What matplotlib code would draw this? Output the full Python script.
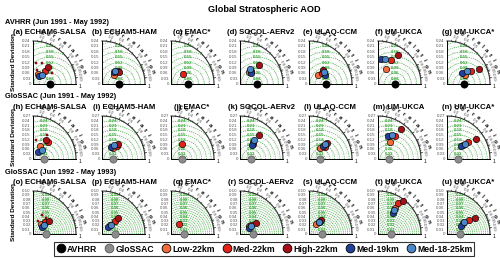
import numpy as np
import matplotlib.pyplot as plt
from matplotlib.lines import Line2D

plt.rcParams['font.family'] = ['Liberation Sans', 'DejaVu Sans']
plt.rcParams['font.weight'] = 'bold'

title = "Global Stratospheric AOD"
row_titles = ["AVHRR (Jun 1991 - May 1992)", "GloSSAC (Jun 1991 - May 1992)",
              "GloSSAC (Jun 1992 - May 1993)"]
models = ["ECHAM6-SALSA", "ECHAM5-HAM", "EMAC*", "SOCOL-AERv2", "ULAQ-CCM", "UM-UKCA", "UM-UKCA*"]
letters = "abcdefghijklmnopqrstu"

series = ["Low-22km", "Med-22km", "High-22km", "Med-19km", "Med-18-25km"]
colors = ["#f26b3a", "#e2231a", "#a50f15", "#21409a", "#4a86c8"]

ref_names = ["AVHRR", "GloSSAC", "GloSSAC"]
ref_colors = ["black", "#8c8c8c", "#8c8c8c"]
ref_std = [0.096, 0.072, 0.03]
std_max = [0.24, 0.27, 0.10]
std_step = [0.03, 0.03, 0.01]
rms_step = [0.03, 0.03, 0.005]
rms_label_every = [1, 1, 2]

# standard deviation and correlation, [model][series], None = not run
std1 = [[.062, .098, .126, .056, .070], [.083, .116, .117, .092, .102], [None, .087, None, None, None],
        [.082, .094, .149, .087, .102], [.073, .095, .112, .103, .108], [.096, .151, .196, .140, .145],
        [.116, .154, .197, .105, .133]]
cor1 = [[.46, .68, .648, .64, .72], [.814, .785, .819, .707, .707], [None, .77, None, None, None],
        [.614, .64, .707, .72, .566], [.69, .756, .707, .86, .80], [.477, .491, .574, .12, .281],
        [.89, .875, .904, .82, .851]]
std2 = [[.092, .143, .144, .054, .080], [.095, .124, .137, .094, .115], [None, .118, None, None, None],
        [.124, .137, .192, .117, .149], [.099, .125, .151, .120, .138], [.132, .179, .237, .156, .175],
        [.136, .171, .221, .120, .148]]
cor2 = [[.47, .66, .563, .6, .707], [.707, .76, .727, .632, .659], [None, .571, None, None, None],
        [.65, .613, .618, .647, .6], [.707, .797, .75, .74, .745], [.574, .602, .604, .398, .508],
        [.755, .774, .819, .74, .768]]
std3 = [[.030, .040, .048, .026, .033], [.027, .042, .051, .021, .031], [None, .030, None, None, None],
        [.028, .034, .045, .026, .031], [.029, .039, .044, .035, .037], [.072, .086, .096, .060, .067],
        [.046, .061, .075, .038, .049]]
cor3 = [[.637, .707, .777, .795, .793], [.669, .707, .707, .631, .707], [None, .637, None, None, None],
        [.775, .764, .818, .814, .796], [.594, .64, .66, .632, .65], [.555, .547, .602, .581, .551],
        [.826, .84, .869, .866, .82]]
stds = [std1, std2, std3]
cors = [cor1, cor2, cor3]

# extra ECHAM6-SALSA runs (small squares)
salsa_std = [[.121, .125, .083, .124], [.120, .099, .176], [.050, .048, .032]]
salsa_cor = [[.158, .385, .29, .874], [.157, .436, .508], [.44, .62, .371]]

corr_ticks = [0.2, 0.4, 0.6, 0.8, 0.9, 0.95, 0.99]
green = "#3aa83a"

W, H = 500, 258
fig = plt.figure(figsize=(5, 2.58), dpi=100)


def taylor(ax, R, ref, rstep, sstep, every, refc, first):
    ax.set_xlim(0, R)
    ax.set_ylim(0, R)
    ax.axis('off')
    t = np.linspace(0, np.pi / 2, 200)
    # std dev arcs
    for s in np.arange(sstep, R - 1e-9, sstep):
        ax.plot(s * np.cos(t), s * np.sin(t), color='#b5b5b5', lw=0.35, ls=':', zorder=1)
    # correlation rays
    for c in corr_ticks:
        a = np.arccos(c)
        ax.plot([0, R * np.cos(a)], [0, R * np.sin(a)], color='#c8c8c8', lw=0.3, ls=':', zorder=1)
    # rms circles
    tt = np.linspace(0, np.pi, 300)
    k = 1
    while k * rstep < R + ref:
        r = k * rstep
        x = ref + r * np.cos(tt)
        y = r * np.sin(tt)
        bad = (x ** 2 + y ** 2 > R ** 2) | (x < 0)
        x[bad] = np.nan
        ax.plot(x, y, color=green, lw=0.45, ls=(0, (2, 1.5)), zorder=2)
        if k % every == 0 and ref ** 2 + r ** 2 < (0.97 * R) ** 2:
            ax.text(ref, r, f"{r:g}", color=green, fontsize=3.2, ha='center', va='center', zorder=3)
        k += 1
    # frame
    ax.plot(R * np.cos(t), R * np.sin(t), color='#333333', lw=0.8, clip_on=False, zorder=4)
    ax.plot([0, 0], [0, R], color='black', lw=0.7, clip_on=False, zorder=4)
    ax.plot([0, R], [0, 0], color='black', lw=0.7, clip_on=False, zorder=4)
    for s in np.arange(0, R + 1e-9, sstep):
        ax.text(-0.05 * R, s, f"{s:.2f}" if s > 0 else "0", fontsize=3.2, color='#555555',
                ha='right', va='center', fontweight='normal')
    # correlation ticks
    minor = list(np.arange(0.1, 0.9, 0.1)) + list(np.arange(0.9, 1.0, 0.01))
    for c in minor:
        a = np.arccos(c)
        ax.plot([R * np.cos(a), 1.025 * R * np.cos(a)], [R * np.sin(a), 1.025 * R * np.sin(a)],
                color='#333333', lw=0.4, clip_on=False)
    for c in corr_ticks:
        a = np.arccos(c)
        ax.plot([R * np.cos(a), 1.05 * R * np.cos(a)], [R * np.sin(a), 1.05 * R * np.sin(a)],
                color='#333333', lw=0.5, clip_on=False)
        ax.text(1.1 * R * np.cos(a), 1.1 * R * np.sin(a), f"{c:g}", fontsize=3.2, color='#555555',
                ha='center', va='center', rotation=np.degrees(a) - 90, fontweight='normal')
    ax.text(1.06 * R, -0.06 * R, "1", fontsize=3.4, ha='left', va='center', fontweight='normal')
    word = "Correlation"
    angs = np.linspace(80, 14, len(word))
    for ch, d in zip(word, angs):
        a = np.radians(d)
        ax.text(1.2 * R * np.cos(a), 1.2 * R * np.sin(a), ch, fontsize=4.4, ha='center',
                va='center', rotation=d - 90)
    ax.plot([ref], [0], 'o', ms=5.2, mfc=refc, mec='black' if refc == 'black' else '#555555',
            mew=0.5, clip_on=False, zorder=10)
    if first:
        ax.text(-0.45 * R, 0.5 * R, "Standard Deviation", rotation=90, fontsize=4.6,
                ha='center', va='center')


bottoms = [84, 159, 234]
Rpx = 43
title_shift = [17, 22, 21, 21, 21, 21, 21]
for row in range(3):
    b = bottoms[row]
    top = b - Rpx
    fig.text(5 / W, 1 - (top - 19) / H, row_titles[row], fontsize=5.3, ha='left', va='center')
    R = std_max[row]
    for col in range(7):
        ox = 33 + 69 * col
        ax = fig.add_axes([ox / W, 1 - b / H, Rpx / W, Rpx / H])
        taylor(ax, R, ref_std[row], rms_step[row], std_step[row], rms_label_every[row],
               ref_colors[row], col == 0)
        fig.text((ox + title_shift[col]) / W, 1 - (top - 9) / H,
                 f"({letters[row * 7 + col]}) {models[col]}",
                 fontsize=5.6, ha='center', va='center')
        if col == 0:
            for s, c in zip(salsa_std[row], salsa_cor[row]):
                a = np.arccos(c)
                ax.plot(s * np.cos(a), s * np.sin(a), 's', ms=1.8, mfc='#b01020', mec='#600000',
                        mew=0.3, zorder=6, clip_on=False)
        for i in range(5):
            s = stds[row][col][i]
            c = cors[row][col][i]
            if s is None:
                continue
            a = np.arccos(c)
            ax.plot(s * np.cos(a), s * np.sin(a), 'o', ms=4.6, mfc=colors[i], mec='black',
                    mew=0.45, zorder=7 + i, clip_on=False)

fig.text(264 / W, 1 - 9 / H, title, fontsize=6.6, ha='center', va='center')

handles = [Line2D([], [], ls='', marker='o', ms=6.3, mfc='black', mec='black', mew=0.6),
           Line2D([], [], ls='', marker='o', ms=6.3, mfc='#8c8c8c', mec='#555555', mew=0.6)]
handles += [Line2D([], [], ls='', marker='o', ms=6.3, mfc=c, mec='black', mew=0.6) for c in colors]
labels = ["AVHRR", "GloSSAC"] + series
leg = fig.legend(handles, labels, loc='center', bbox_to_anchor=(264 / W, 1 - 249 / H), ncol=7,
                 fontsize=6.2, frameon=True, fancybox=False, edgecolor='black', handletextpad=0.1,
                 columnspacing=0.8, borderpad=0.25, handlelength=1.2)
leg.get_frame().set_linewidth(0.8)

fig.savefig('out.png', dpi=100)
